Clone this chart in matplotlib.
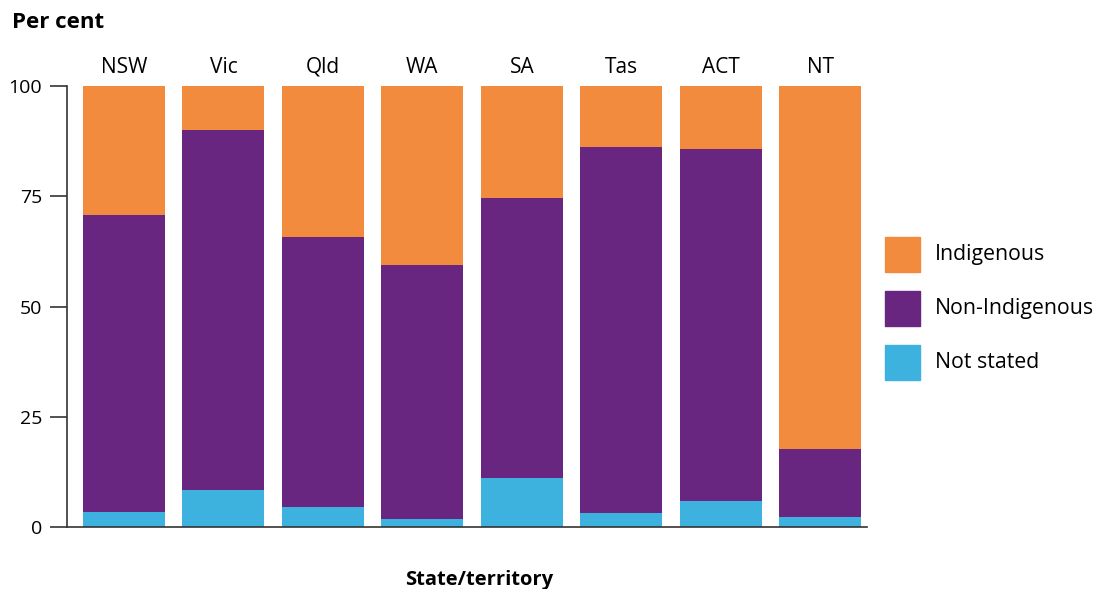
import matplotlib.pyplot as plt
from matplotlib.patches import Rectangle
import numpy as np

plt.rcParams['font.family'] = ['Open Sans', 'DejaVu Sans']

states = ['NSW', 'Vic', 'Qld', 'WA', 'SA', 'Tas', 'ACT', 'NT']
not_stated = [3.5, 8.5, 4.6, 1.9, 11.0, 3.2, 6.0, 2.3]
non_indigenous = [67.3, 81.6, 61.2, 57.4, 63.7, 83.0, 79.8, 15.5]
indigenous = [29.2, 9.9, 34.2, 40.7, 25.3, 13.8, 14.2, 82.2]

series_names = ['Indigenous', 'Non-Indigenous', 'Not stated']
c_ind = '#F28B3D'
c_non = '#682680'
c_ns = '#3EB2DE'
series_colors = [c_ind, c_non, c_ns]

W, H = 1097, 589
fig = plt.figure(figsize=(W / 100, H / 100), dpi=100)
ax = fig.add_axes([67 / W, 1 - 527 / H, 800 / W, 441 / H])

x = np.arange(len(states))
w = 0.825
ax.bar(x, not_stated, w, color=c_ns)
ax.bar(x, non_indigenous, w, bottom=not_stated, color=c_non)
bottom2 = np.array(not_stated) + np.array(non_indigenous)
ax.bar(x, indigenous, w, bottom=bottom2, color=c_ind)

ax.set_xlim(-0.573, 7.47)
ax.set_ylim(0, 100)
ax.set_yticks([0, 25, 50, 75, 100])
ax.tick_params(axis='y', labelsize=14, length=12, width=1.2, color='#333333', pad=6)

# state names sit above the bars
ax.xaxis.tick_top()
ax.set_xticks(x)
ax.set_xticklabels(states)
ax.tick_params(axis='x', labelsize=15, length=0, pad=6)
ax.xaxis.set_label_position('bottom')
ax.set_xlabel('State/territory', fontsize=14.5, fontweight='bold', labelpad=31)
ax.xaxis.label.set_x((479 - 67) / 800)

for s in ['top', 'right']:
    ax.spines[s].set_visible(False)
for s in ['left', 'bottom']:
    ax.spines[s].set_color('#333333')
    ax.spines[s].set_linewidth(1.2)

fig.text(12 / W, 1 - 22 / H, 'Per cent', fontsize=16, fontweight='bold', va='center')

# legend boxes on the right, drawn in figure pixels
for i, (name, col) in enumerate(zip(series_names, series_colors)):
    cy = 254 + i * 54
    fig.patches.append(Rectangle((885 / W, 1 - (cy + 17.5) / H), 35 / W, 35 / H,
                                 transform=fig.transFigure, color=col))
    fig.text(935 / W, 1 - cy / H, name, fontsize=15.3, va='center', ha='left')

fig.savefig('out.png', dpi=100)
